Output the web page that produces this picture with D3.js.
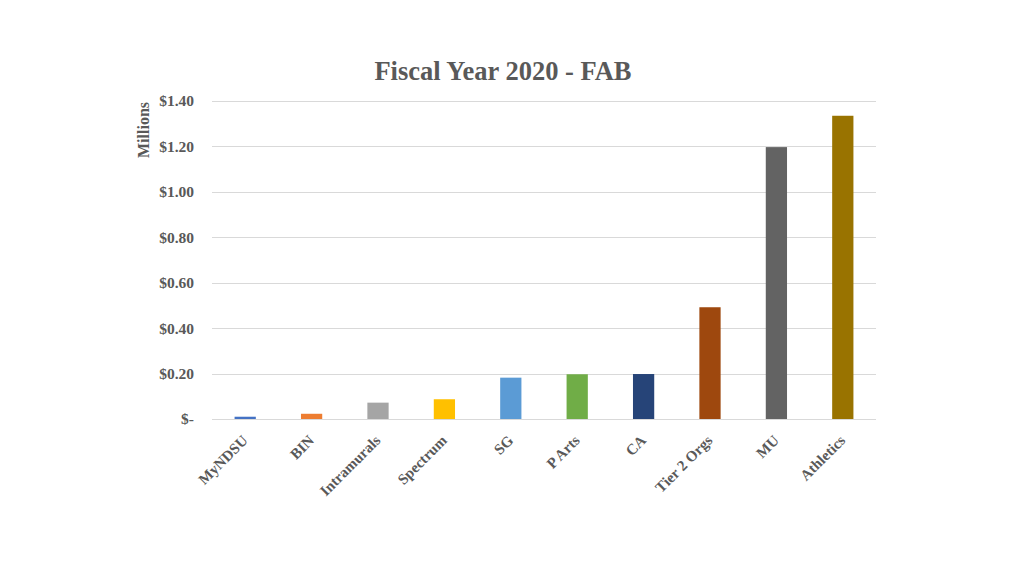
<!DOCTYPE html>
<html>
<head>
<meta charset="utf-8">
<script src="https://cdn.jsdelivr.net/npm/d3@7/dist/d3.min.js"></script>
<style>
  html, body { margin: 0; padding: 0; background: #fff; }
  svg { display: block; }
  text { font-family: "Liberation Serif", "Times New Roman", serif; font-weight: bold; fill: #595959; }
</style>
</head>
<body>
<svg id="chart" width="1024" height="576"></svg>
<script>
const categories = ["MyNDSU", "BIN", "Intramurals", "Spectrum", "SG", "P Arts", "CA", "Tier 2 Orgs", "MU", "Athletics"];
const values = [0.010, 0.023, 0.072, 0.087, 0.182, 0.197, 0.198, 0.492, 1.197, 1.335];
const colors = ["#4472C4", "#ED7D31", "#A5A5A5", "#FFC000", "#5B9BD5", "#70AD47", "#264478", "#9E480E", "#636363", "#997300"];
const yTicks = [0, 0.2, 0.4, 0.6, 0.8, 1.0, 1.2, 1.4];
const yTickLabels = ["$-", "$0.20", "$0.40", "$0.60", "$0.80", "$1.00", "$1.20", "$1.40"];
const title = "Fiscal Year 2020 - FAB";
const yAxisTitle = "Millions";

const svg = d3.select("#chart");
const plotLeft = 212, plotRight = 876, plotTop = 101, plotBottom = 419;

const x = d3.scaleBand().domain(categories).range([plotLeft, plotRight]).paddingInner(0.68).paddingOuter(0.34);
const y = d3.scaleLinear().domain([0, 1.4]).range([plotBottom, plotTop]);

// gridlines
svg.append("g").selectAll("line").data(yTicks).join("line")
  .attr("x1", plotLeft).attr("x2", plotRight)
  .attr("y1", d => Math.round(y(d)) + 0.5).attr("y2", d => Math.round(y(d)) + 0.5)
  .attr("stroke", "#D9D9D9").attr("stroke-width", 1);

// y tick labels
svg.append("g").selectAll("text").data(yTicks).join("text")
  .attr("x", 194).attr("y", d => y(d)).attr("dy", "0.35em")
  .attr("text-anchor", "end").style("font-size", "15.5px")
  .text((d, i) => yTickLabels[i]);

// bars
svg.append("g").selectAll("rect").data(values).join("rect")
  .attr("x", (d, i) => x(categories[i]))
  .attr("width", x.bandwidth())
  .attr("y", d => y(d))
  .attr("height", d => y(0) - y(d))
  .attr("fill", (d, i) => colors[i]);

// category labels
svg.append("g").selectAll("text").data(categories).join("text")
  .attr("transform", d => `translate(${x(d) + x.bandwidth() / 2 - 4},${plotBottom + 15}) rotate(-45)`)
  .attr("text-anchor", "end").attr("dy", "0.7em")
  .style("font-size", "15px")
  .text(d => d);

// title
svg.append("text").attr("x", 503).attr("y", 80).attr("text-anchor", "middle")
  .style("font-size", "26.5px").text(title);

// y axis title
svg.append("text").attr("transform", "translate(149,130) rotate(-90)")
  .attr("text-anchor", "middle").style("font-size", "16px").text(yAxisTitle);
</script>
</body>
</html>
